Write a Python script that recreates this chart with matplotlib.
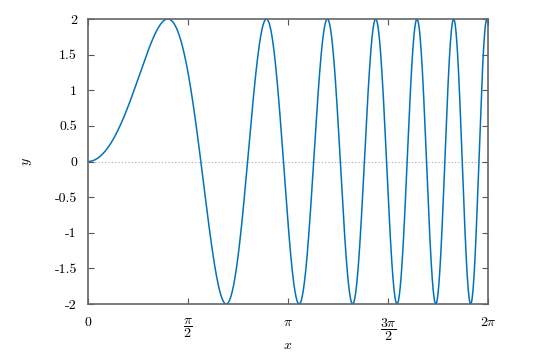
import numpy as np
import matplotlib
matplotlib.use("Agg")
import matplotlib.pyplot as plt

plt.rcParams['mathtext.fontset'] = 'cm'
plt.rcParams['font.family'] = ['cmr10', 'DejaVu Serif']
plt.rcParams['axes.unicode_minus'] = False

# Function plot: y = 2 sin(x^2) on [0, 2*pi]
amplitude = 2.0
x = np.linspace(0, 2 * np.pi, 3000)
y = amplitude * np.sin(x ** 2)

xticks = [0, np.pi / 2, np.pi, 3 * np.pi / 2, 2 * np.pi]
xticklabels = ["$0$", r"$\dfrac{\pi}{2}$", r"$\pi$", r"$\dfrac{3\pi}{2}$", r"$2\pi$"]
yticks = [-2, -1.5, -1, -0.5, 0, 0.5, 1, 1.5, 2]
yticklabels = ["-2", "-1.5", "-1", "-0.5", "0", "0.5", "1", "1.5", "2"]

fig = plt.figure(figsize=(5.5, 3.53), dpi=100)
ax = fig.add_axes([88 / 550, 1 - 304 / 353, 400 / 550, 285 / 353])

ax.axhline(0, color="#aaaaaa", linestyle=(0, (1, 2)), linewidth=0.8, zorder=1)
ax.plot(x, y, color="#0072bd", linewidth=1.1, zorder=2)

ax.set_xlim(0, 2 * np.pi)
ax.set_ylim(-2, 2)
ax.set_xticks(xticks)
ax.set_xticklabels(xticklabels, fontsize=10, va="top")
ax.set_yticks(yticks)
ax.set_yticklabels(yticklabels, fontsize=10)
ax.tick_params(axis="x", pad=9)
ax.tick_params(axis="y", pad=8)
ax.tick_params(direction="in", top=True, right=True, length=4, width=0.8,
               color="#555555")
for s in ax.spines.values():
    s.set_color("#666666")
    s.set_linewidth(1.2)

ax.xaxis.set_label_coords(0.5, -0.125)
ax.yaxis.set_label_coords(-0.135, 0.5)
ax.set_xlabel("$x$", fontsize=10)
ax.set_ylabel("$y$", fontsize=10, rotation=90)

fig.savefig("out.png", dpi=100)
